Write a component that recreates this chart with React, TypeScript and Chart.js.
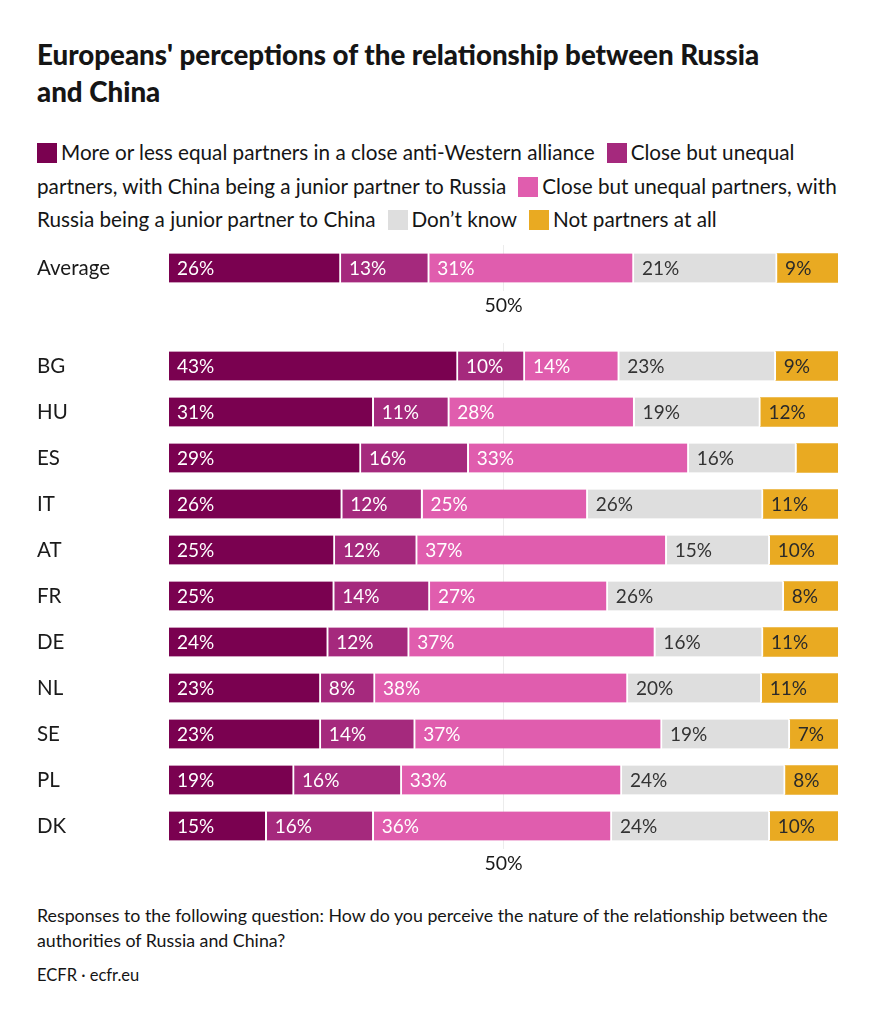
import React, { useEffect, useRef } from "react";
import { Chart, registerables } from "chart.js";

Chart.register(...registerables);

const categories = ["Average", "BG", "HU", "ES", "IT", "AT", "FR", "DE", "NL", "SE", "PL", "DK"];
const equalPartners = [25.7, 43.2, 30.6, 28.7, 25.9, 24.8, 24.7, 23.8, 22.7, 22.7, 18.7, 14.6];
const chinaJunior = [13.2, 10.0, 11.3, 16.1, 12.0, 12.3, 14.3, 12.1, 8.1, 14.1, 16.1, 16.0];
const russiaJunior = [30.6, 14.1, 27.7, 32.9, 24.7, 37.3, 26.6, 36.8, 37.8, 36.9, 32.9, 35.6];
const dontKnow = [21.4, 23.4, 18.8, 16.1, 26.2, 15.4, 26.3, 16.1, 20.0, 19.1, 24.4, 23.6];
const notPartners = [9.1, 9.3, 11.6, 6.2, 11.2, 10.2, 8.1, 11.2, 11.4, 7.2, 7.9, 10.2];
const xTicks = [50];

const seriesNames = [
  "More or less equal partners in a close anti-Western alliance",
  "Close but unequal partners, with China being a junior partner to Russia",
  "Close but unequal partners, with Russia being a junior partner to China",
  "Don’t know",
  "Not partners at all",
];
const seriesValues = [equalPartners, chinaJunior, russiaJunior, dontKnow, notPartners];
const colors = ["#7a0150", "#a5297d", "#e05dae", "#dedede", "#e9aa22"];
const labelColors = ["#ffffff", "#ffffff", "#ffffff", "#333333", "#2a2a2a"];

const FONT = "Lato, 'Noto Sans', sans-serif";
const ROW = 46;

const labelPlugin = {
  id: "segLabels",
  afterDatasetsDraw(chart: any) {
    const ctx = chart.ctx;
    ctx.save();
    ctx.font = `19px ${FONT}`;
    ctx.textBaseline = "middle";
    ctx.textAlign = "left";
    chart.data.datasets.forEach((ds: any, di: number) => {
      const meta = chart.getDatasetMeta(di);
      meta.data.forEach((el: any, i: number) => {
        const v = ds.data[i];
        if (v < 6.5) return;
        const left = Math.min(el.base, el.x);
        ctx.fillStyle = labelColors[di];
        ctx.fillText(Math.round(v) + "%", left + 8, el.y + 1);
      });
    });
    ctx.restore();
  },
};

function BarChart({ from, to, height }: { from: number; to: number; height: number }) {
  const ref = useRef<HTMLCanvasElement>(null);
  useEffect(() => {
    const n = to - from;
    const last = seriesValues.length - 1;
    const chart = new Chart(ref.current!, {
      type: "bar",
      data: {
        labels: categories.slice(from, to),
        datasets: seriesValues.map((vals, i) => ({
          label: seriesNames[i],
          data: vals.slice(from, to),
          backgroundColor: colors[i],
          borderColor: "#ffffff",
          borderWidth: { left: 0, right: i === last ? 0 : 2, top: 0, bottom: 0 },
          borderSkipped: false,
          barThickness: 29,
        })),
      },
      options: {
        indexAxis: "y",
        responsive: false,
        animation: false,
        devicePixelRatio: 1,
        layout: { padding: 0 },
        plugins: { legend: { display: false }, tooltip: { enabled: false } },
        scales: {
          x: {
            stacked: true,
            min: 0,
            max: 100,
            afterBuildTicks: (scale: any) => {
              scale.ticks = xTicks.map((v) => ({ value: v }));
            },
            afterFit: (scale: any) => {
              scale.height = height - n * ROW;
            },
            ticks: {
              callback: (v: any) => v + "%",
              font: { family: FONT, size: 19.5 },
              color: "#1a1a1a",
              padding: 3,
              maxRotation: 0,
            },
            grid: { color: "#ececec", drawTicks: false, lineWidth: 1 },
            border: { display: false },
          },
          y: {
            stacked: true,
            afterFit: (scale: any) => {
              scale.width = 132;
              scale.paddingTop = 0;
              scale.paddingBottom = 0;
            },
            ticks: {
              crossAlign: "far",
              padding: 0,
              font: { family: FONT, size: 20.5 },
              color: "#1a1a1a",
            },
            grid: { display: false },
            border: { display: false },
          },
        },
      },
      plugins: [labelPlugin],
    } as any);
    return () => chart.destroy();
  }, [from, to, height]);
  return <canvas ref={ref} width={801} height={height} style={{ display: "block", width: 801, height }} />;
}

function Swatch({ color }: { color: string }) {
  return (
    <span
      style={{
        display: "inline-block",
        width: 20,
        height: 20,
        background: color,
        verticalAlign: "-3px",
        marginRight: 4,
      }}
    />
  );
}

export default function App() {
  const text = "#151515";
  return (
    <div style={{ position: "relative", width: 859, height: 1008, fontFamily: FONT, color: text, background: "#fff" }}>
      <div
        style={{
          position: "absolute",
          left: 29,
          top: 28,
          fontSize: 27.7,
          fontWeight: 900,
          lineHeight: "37px",
          whiteSpace: "nowrap",
        }}
      >
        Europeans' perceptions of the relationship between Russia
        <br />
        and China
      </div>
      <div
        style={{
          position: "absolute",
          left: 29,
          top: 128,
          fontSize: 20.7,
          lineHeight: "33.5px",
          whiteSpace: "nowrap",
        }}
      >
        <div>
          <Swatch color={colors[0]} />
          {seriesNames[0]}
          <span style={{ marginLeft: 12 }} />
          <Swatch color={colors[1]} />
          Close but unequal
        </div>
        <div>
          partners, with China being a junior partner to Russia
          <span style={{ marginLeft: 12 }} />
          <Swatch color={colors[2]} />
          Close but unequal partners, with
        </div>
        <div>
          Russia being a junior partner to China
          <span style={{ marginLeft: 12 }} />
          <Swatch color={colors[3]} />
          {seriesNames[3]}
          <span style={{ marginLeft: 12 }} />
          <Swatch color={colors[4]} />
          {seriesNames[4]}
        </div>
      </div>
      <div style={{ position: "absolute", left: 29, top: 237 }}>
        <BarChart from={0} to={1} height={80} />
      </div>
      <div style={{ position: "absolute", left: 29, top: 335 }}>
        <BarChart from={1} to={12} height={546} />
      </div>
      <div style={{ position: "absolute", left: 29, top: 895, fontSize: 17.8, lineHeight: "25px", whiteSpace: "nowrap" }}>
        Responses to the following question: How do you perceive the nature of the relationship between the
        <br />
        authorities of Russia and China?
      </div>
      <div style={{ position: "absolute", left: 29, top: 955, fontSize: 16.5, lineHeight: "25px" }}>ECFR · ecfr.eu</div>
    </div>
  );
}
